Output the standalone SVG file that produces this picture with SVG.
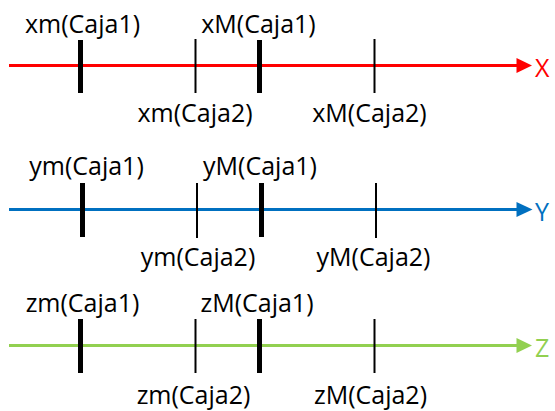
<svg xmlns="http://www.w3.org/2000/svg" width="555" height="411" viewBox="0 0 555 411">
<style>
text{font-family:"Open Sans","Liberation Sans",sans-serif;font-size:25px;fill:#000}
.lbl{text-anchor:middle}
.thick{stroke:#000;stroke-width:5}
.thin{stroke:#000;stroke-width:2}
.ax{stroke-width:3;fill:none}
</style>
<rect width="555" height="411" fill="#fff"/>
<g id="connectors">
<line class="ax" x1="9" y1="65.5" x2="518" y2="65.5" stroke="#FF0000"/>
<polygon points="516.5,58 532,65.5 516.5,73" fill="#FF0000"/>
<line class="ax" x1="9" y1="209.5" x2="518" y2="209.5" stroke="#0070C0"/>
<polygon points="516.5,202 532.5,209.5 516.5,217" fill="#0070C0"/>
<line class="ax" x1="9" y1="345.5" x2="518" y2="345.5" stroke="#92D050"/>
<polygon points="516.5,338 532,345.5 516.5,353" fill="#92D050"/>
</g>
<g id="axisX">
<line class="thick" x1="80.5" y1="40" x2="80.5" y2="93"/>
<line class="thin" x1="195.5" y1="39" x2="195.5" y2="93"/>
<line class="thick" x1="259.5" y1="40" x2="259.5" y2="93"/>
<line class="thin" x1="374.5" y1="39" x2="374.5" y2="93"/>
<text class="lbl" x="82.5" y="33">xm(Caja1)</text>
<text class="lbl" x="258.5" y="33">xM(Caja1)</text>
<text class="lbl" x="195" y="122">xm(Caja2)</text>
<text class="lbl" x="369.5" y="122">xM(Caja2)</text>
<text x="535" y="77" style="fill:#FF0000">X</text>
</g>
<g id="axisY">
<line class="thick" x1="82.5" y1="183" x2="82.5" y2="237"/>
<line class="thin" x1="197" y1="183" x2="197" y2="238"/>
<line class="thick" x1="261.5" y1="183" x2="261.5" y2="237"/>
<line class="thin" x1="376" y1="183" x2="376" y2="238"/>
<text class="lbl" x="86.5" y="175">ym(Caja1)</text>
<text class="lbl" x="260" y="175">yM(Caja1)</text>
<text class="lbl" x="198" y="266">ym(Caja2)</text>
<text class="lbl" x="373.5" y="266">yM(Caja2)</text>
<text x="535" y="221" style="fill:#0070C0">Y</text>
</g>
<g id="axisZ">
<line class="thick" x1="80.5" y1="319" x2="80.5" y2="373"/>
<line class="thin" x1="195.5" y1="319" x2="195.5" y2="373"/>
<line class="thick" x1="259.5" y1="319" x2="259.5" y2="373"/>
<line class="thin" x1="374.5" y1="319" x2="374.5" y2="373"/>
<text class="lbl" x="82.5" y="312">zm(Caja1)</text>
<text class="lbl" x="257" y="312">zM(Caja1)</text>
<text class="lbl" x="193.5" y="404">zm(Caja2)</text>
<text class="lbl" x="370.5" y="404">zM(Caja2)</text>
<text x="535" y="357" style="fill:#92D050">Z</text>
</g>
</svg>
